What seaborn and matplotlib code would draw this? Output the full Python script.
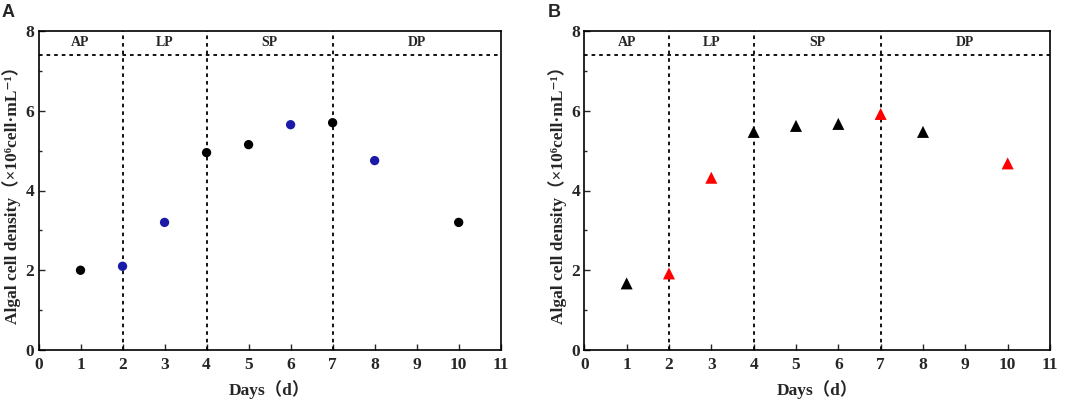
import numpy as np
import pandas as pd
import matplotlib
matplotlib.use('agg')
import matplotlib.pyplot as plt
from matplotlib.ticker import MultipleLocator
import seaborn as sns

days = [1, 2, 3, 4, 5, 6, 7, 8, 10]
density_a = [2.00, 2.10, 3.20, 4.95, 5.15, 5.65, 5.70, 4.75, 3.20]
group_a = ['k', 'hl', 'hl', 'k', 'k', 'hl', 'k', 'hl', 'k']
density_b = [1.67, 1.92, 4.32, 5.47, 5.62, 5.67, 5.92, 5.47, 4.68]
group_b = ['k', 'hl', 'hl', 'k', 'k', 'k', 'hl', 'k', 'hl']

phase_names = ['AP', 'LP', 'SP', 'DP']
phase_pos = [1, 3, 5.5, 9]
phase_bounds = [2, 4, 7]
phase_line_y = 7.4

sns.set_style('ticks')
plt.rcParams['font.family'] = ['Liberation Serif', 'DejaVu Serif', 'Noto Sans CJK SC']
plt.rcParams['font.weight'] = 'bold'

fig = plt.figure(figsize=(10.72, 3.99), dpi=100)
ax_a = fig.add_axes([38.5 / 1072, 49 / 399, 462.2 / 1072, 319 / 399])
ax_b = fig.add_axes([584.3 / 1072, 49 / 399, 465.7 / 1072, 319 / 399])

panels = [
    (ax_a, density_a, group_a, 'o', {'k': 'black', 'hl': '#1a1aa6'}, 45, 'A', 2),
    (ax_b, density_b, group_b, '^', {'k': 'black', 'hl': '#ff0000'}, 75, 'B', 548),
]

for ax, dens, grp, mk, pal, sz, letter, lx in panels:
    df = pd.DataFrame({'day': days, 'density': dens, 'group': grp})
    for b in phase_bounds:
        ax.plot([b, b], [0, 8], color='black', lw=1.3, ls=(0, (2, 2.2)), zorder=1)
    ax.plot([0, 11], [phase_line_y, phase_line_y], color='black', lw=1.3,
            ls=(0, (2, 2.2)), zorder=1)
    sns.scatterplot(data=df, x='day', y='density', hue='group', palette=pal,
                    marker=mk, s=sz, edgecolor='none', legend=False, ax=ax, zorder=3)
    for name, xp in zip(phase_names, phase_pos):
        ax.text(xp, 7.7, name, ha='center', va='center', fontsize=10,
                fontweight='bold')
    ax.set_xlim(0, 11)
    ax.set_ylim(0, 8)
    ax.xaxis.set_major_locator(MultipleLocator(1))
    ax.yaxis.set_major_locator(MultipleLocator(2))
    ax.yaxis.set_minor_locator(MultipleLocator(1))
    ax.tick_params(axis='both', which='major', direction='in', length=4, width=1,
                   labelsize=12.5)
    ax.tick_params(axis='x', which='major', pad=5)
    ax.tick_params(axis='y', which='major', pad=3)
    ax.tick_params(axis='y', which='minor', direction='in', length=2.5, width=1)
    for lab in ax.get_xticklabels() + ax.get_yticklabels():
        lab.set_fontweight('bold')
    for sp in ax.spines.values():
        sp.set_linewidth(1.2)
        sp.set_color('black')
    ax.set_xlabel('Days（d）', fontsize=12.5, fontweight='bold', labelpad=5)
    ax.set_ylabel('Algal cell density（×10⁶cell·mL⁻¹）', fontsize=12.5,
                  fontweight='bold')
    ax.yaxis.set_label_coords(-17 / 462.2, 0.5)
    fig.text(lx / 1072, 1 - 4 / 399, letter, ha='left', va='top', fontsize=13,
             fontweight='bold', family='Liberation Sans')

fig.savefig('out.png', dpi=100)
